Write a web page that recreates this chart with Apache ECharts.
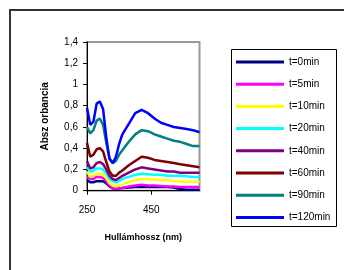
<!DOCTYPE html>
<html>
<head>
<meta charset="utf-8">
<script src="https://cdn.jsdelivr.net/npm/echarts@6/dist/echarts.min.js"></script>
<style>html,body{margin:0;padding:0;background:#fff}#c{width:344px;height:270px}</style>
</head>
<body>
<div id="c"></div>
<script>
const wavelengths = [250, 260, 270, 280, 290, 300, 310, 320, 330, 340, 350, 360, 380, 400, 420, 440, 460, 480, 500, 520, 540, 560, 580, 600];
const seriesNames = ['t=0min', 't=5min', 't=10min', 't=20min', 't=40min', 't=60min', 't=90min', 't=120min'];
const t0   = [0.10, 0.08, 0.08, 0.09, 0.09, 0.09, 0.07, 0.04, 0.02, 0.02, 0.02, 0.025, 0.03, 0.035, 0.035, 0.035, 0.035, 0.035, 0.035, 0.03, 0.015, 0.01, 0.01, 0.01];
const t5   = [0.13, 0.11, 0.11, 0.13, 0.13, 0.12, 0.09, 0.05, 0.02, 0.02, 0.02, 0.025, 0.04, 0.05, 0.055, 0.05, 0.05, 0.045, 0.04, 0.04, 0.035, 0.035, 0.035, 0.035];
const t10  = [0.18, 0.13, 0.14, 0.16, 0.16, 0.15, 0.12, 0.07, 0.05, 0.04, 0.05, 0.06, 0.08, 0.10, 0.11, 0.11, 0.105, 0.10, 0.10, 0.09, 0.085, 0.085, 0.085, 0.085];
const t20  = [0.22, 0.18, 0.19, 0.21, 0.21, 0.20, 0.16, 0.11, 0.09, 0.08, 0.09, 0.11, 0.13, 0.15, 0.16, 0.155, 0.15, 0.15, 0.14, 0.14, 0.14, 0.135, 0.13, 0.13];
const t40  = [0.28, 0.21, 0.22, 0.26, 0.27, 0.25, 0.20, 0.14, 0.11, 0.10, 0.12, 0.14, 0.17, 0.20, 0.22, 0.21, 0.20, 0.19, 0.18, 0.18, 0.17, 0.17, 0.17, 0.17];
const t60  = [0.45, 0.32, 0.34, 0.39, 0.40, 0.37, 0.27, 0.18, 0.14, 0.14, 0.17, 0.19, 0.24, 0.28, 0.32, 0.31, 0.29, 0.28, 0.27, 0.26, 0.25, 0.24, 0.23, 0.22];
const t90  = [0.60, 0.54, 0.57, 0.66, 0.68, 0.62, 0.45, 0.30, 0.26, 0.28, 0.34, 0.38, 0.46, 0.53, 0.57, 0.56, 0.53, 0.51, 0.49, 0.47, 0.46, 0.44, 0.42, 0.42];
const t120 = [0.78, 0.62, 0.65, 0.82, 0.84, 0.77, 0.50, 0.30, 0.26, 0.32, 0.44, 0.53, 0.63, 0.73, 0.76, 0.73, 0.68, 0.64, 0.62, 0.60, 0.59, 0.58, 0.57, 0.55];
const allValues = [t0, t5, t10, t20, t40, t60, t90, t120];
const colors = ['#000080', '#FF00FF', '#FFFF00', '#00FFFF', '#800080', '#800000', '#008080', '#0000FF'];
const yTicks = ['0', '0,2', '0,4', '0,6', '0,8', '1', '1,2', '1,4'];
const xTicks = ['250', '450'];

const FONT = 'Arial, "Liberation Sans", sans-serif';
const chart = echarts.init(document.getElementById('c'), null, {renderer: 'canvas'});
chart.setOption({
  animation: false,
  backgroundColor: '#fff',
  graphic: [
    {type: 'rect', shape: {x: 10, y: 10, width: 400, height: 320}, style: {fill: 'none', stroke: '#333', lineWidth: 2}, z: 0},
    {type: 'rect', shape: {x: 231.5, y: 49.5, width: 105, height: 177}, style: {fill: '#fff', stroke: '#000', lineWidth: 1}, z: 1}
  ],
  grid: {left: 87, top: 42, right: 144.5, bottom: 79.3, show: true, borderColor: '#999', borderWidth: 2, containLabel: false},
  legend: {
    orient: 'vertical', left: 236, top: 57, padding: 0, itemGap: 12.2, icon: 'rect',
    itemWidth: 48, itemHeight: 3, z: 5,
    textStyle: {fontFamily: FONT, fontSize: 10, color: '#000'},
    data: seriesNames
  },
  xAxis: {
    type: 'value', min: 250, max: 600, interval: 200,
    name: 'Hullámhossz (nm)', nameLocation: 'middle', nameGap: 42,
    nameTextStyle: {fontFamily: FONT, fontSize: 9, fontWeight: 'bold', color: '#000'},
    axisLine: {show: true, onZero: false, lineStyle: {color: '#000', width: 1}},
    axisTick: {show: true, length: 4, lineStyle: {color: '#000'}},
    axisLabel: {showMaxLabel: false, margin: 15, fontFamily: FONT, fontSize: 10, color: '#000',
      formatter: v => { const i = Math.round((v - 250) / 200); return xTicks[i] !== undefined && 250 + i * 200 === v ? xTicks[i] : ''; }},
    splitLine: {show: false}
  },
  yAxis: {
    type: 'value', min: 0, max: 1.4, interval: 0.2,
    name: 'Absz orbancia', nameLocation: 'middle', nameGap: 37,
    nameTextStyle: {fontFamily: FONT, fontSize: 10, fontWeight: 'bold', color: '#000'},
    axisLine: {show: true, lineStyle: {color: '#000', width: 1}},
    axisTick: {show: true, length: 4, lineStyle: {color: '#000'}},
    axisLabel: {margin: 9, fontFamily: FONT, fontSize: 10, color: '#000',
      formatter: v => yTicks[Math.round(v / 0.2)]},
    splitLine: {show: false}
  },
  series: seriesNames.map((n, k) => ({
    name: n, type: 'line', showSymbol: false, symbol: 'none', smooth: false,
    color: colors[k],
    lineStyle: {width: 2.5, color: colors[k]},
    data: wavelengths.map((w, i) => [w, allValues[k][i]]),
    z: 2 + k * 0.01
  }))
});
</script>
</body>
</html>
